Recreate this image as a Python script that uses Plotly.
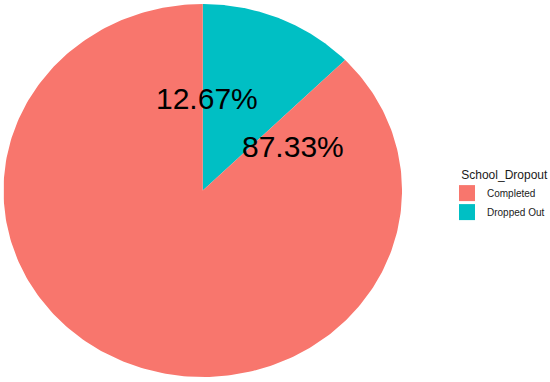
import numpy as np
import plotly.graph_objects as go

categories = ["Dropped Out", "Completed"]
values = [12.67, 87.33]
labels = ["12.67%", "87.33%"]
colors = {"Completed": "#F8766D", "Dropped Out": "#00BFC4"}
legend_order = ["Completed", "Dropped Out"]

total = sum(values)
fracs = np.cumsum([0] + values) / total

fig = go.Figure()
for i, cat in enumerate(categories):
    th = np.linspace(fracs[i], fracs[i + 1], 300) * 2 * np.pi
    x = np.concatenate([[0], np.sin(th), [0]])
    y = np.concatenate([[0], np.cos(th), [0]])
    fig.add_trace(go.Scatter(
        x=x, y=y, mode="lines", fill="toself", fillcolor=colors[cat],
        line=dict(width=0, color=colors[cat]), name=cat, hoverinfo="name",
        showlegend=False, legendgroup=cat,
    ))

# legend entries (square keys)
for k, cat in enumerate(legend_order):
    fig.add_trace(go.Scatter(
        x=[None], y=[None], mode="markers", name=cat, legendgroup=cat,
        marker=dict(symbol="square", size=16, color=colors[cat]),
        legendrank=k + 1,
    ))

# label positions (as drawn in the original, in pie coordinates)
label_pos = [(0.022, 0.495), (0.452, 0.235)]
for (lx, ly), txt in zip(label_pos, labels):
    fig.add_annotation(x=lx, y=ly, text=txt, showarrow=False,
                       font=dict(size=30, color="black", family="Liberation Sans, Arial"),
                       xanchor="center", yanchor="middle")

fig.update_xaxes(range=[-1, 1], domain=[3.5 / 550, 403.5 / 550], visible=False)
fig.update_yaxes(range=[-1, 1], domain=[1 - 377 / 382, 1 - 4 / 382], visible=False)
fig.update_layout(
    width=550, height=382, margin=dict(l=0, r=0, t=0, b=0),
    plot_bgcolor="white", paper_bgcolor="white",
    font=dict(family="Liberation Sans, Arial", color="#1a1a1a"),
    legend=dict(title=dict(text="School_Dropout", font=dict(size=12), side="top right"),
                font=dict(size=10), x=449 / 550, y=1 - 163 / 382,
                xanchor="left", yanchor="top", tracegroupgap=0,
                bgcolor="rgba(0,0,0,0)", traceorder="normal",
                itemwidth=30, itemsizing="trace"),
    showlegend=True,
)
fig.write_html("out.html", config={"displayModeBar": False},
               post_script="document.body.style.margin='0px';")
